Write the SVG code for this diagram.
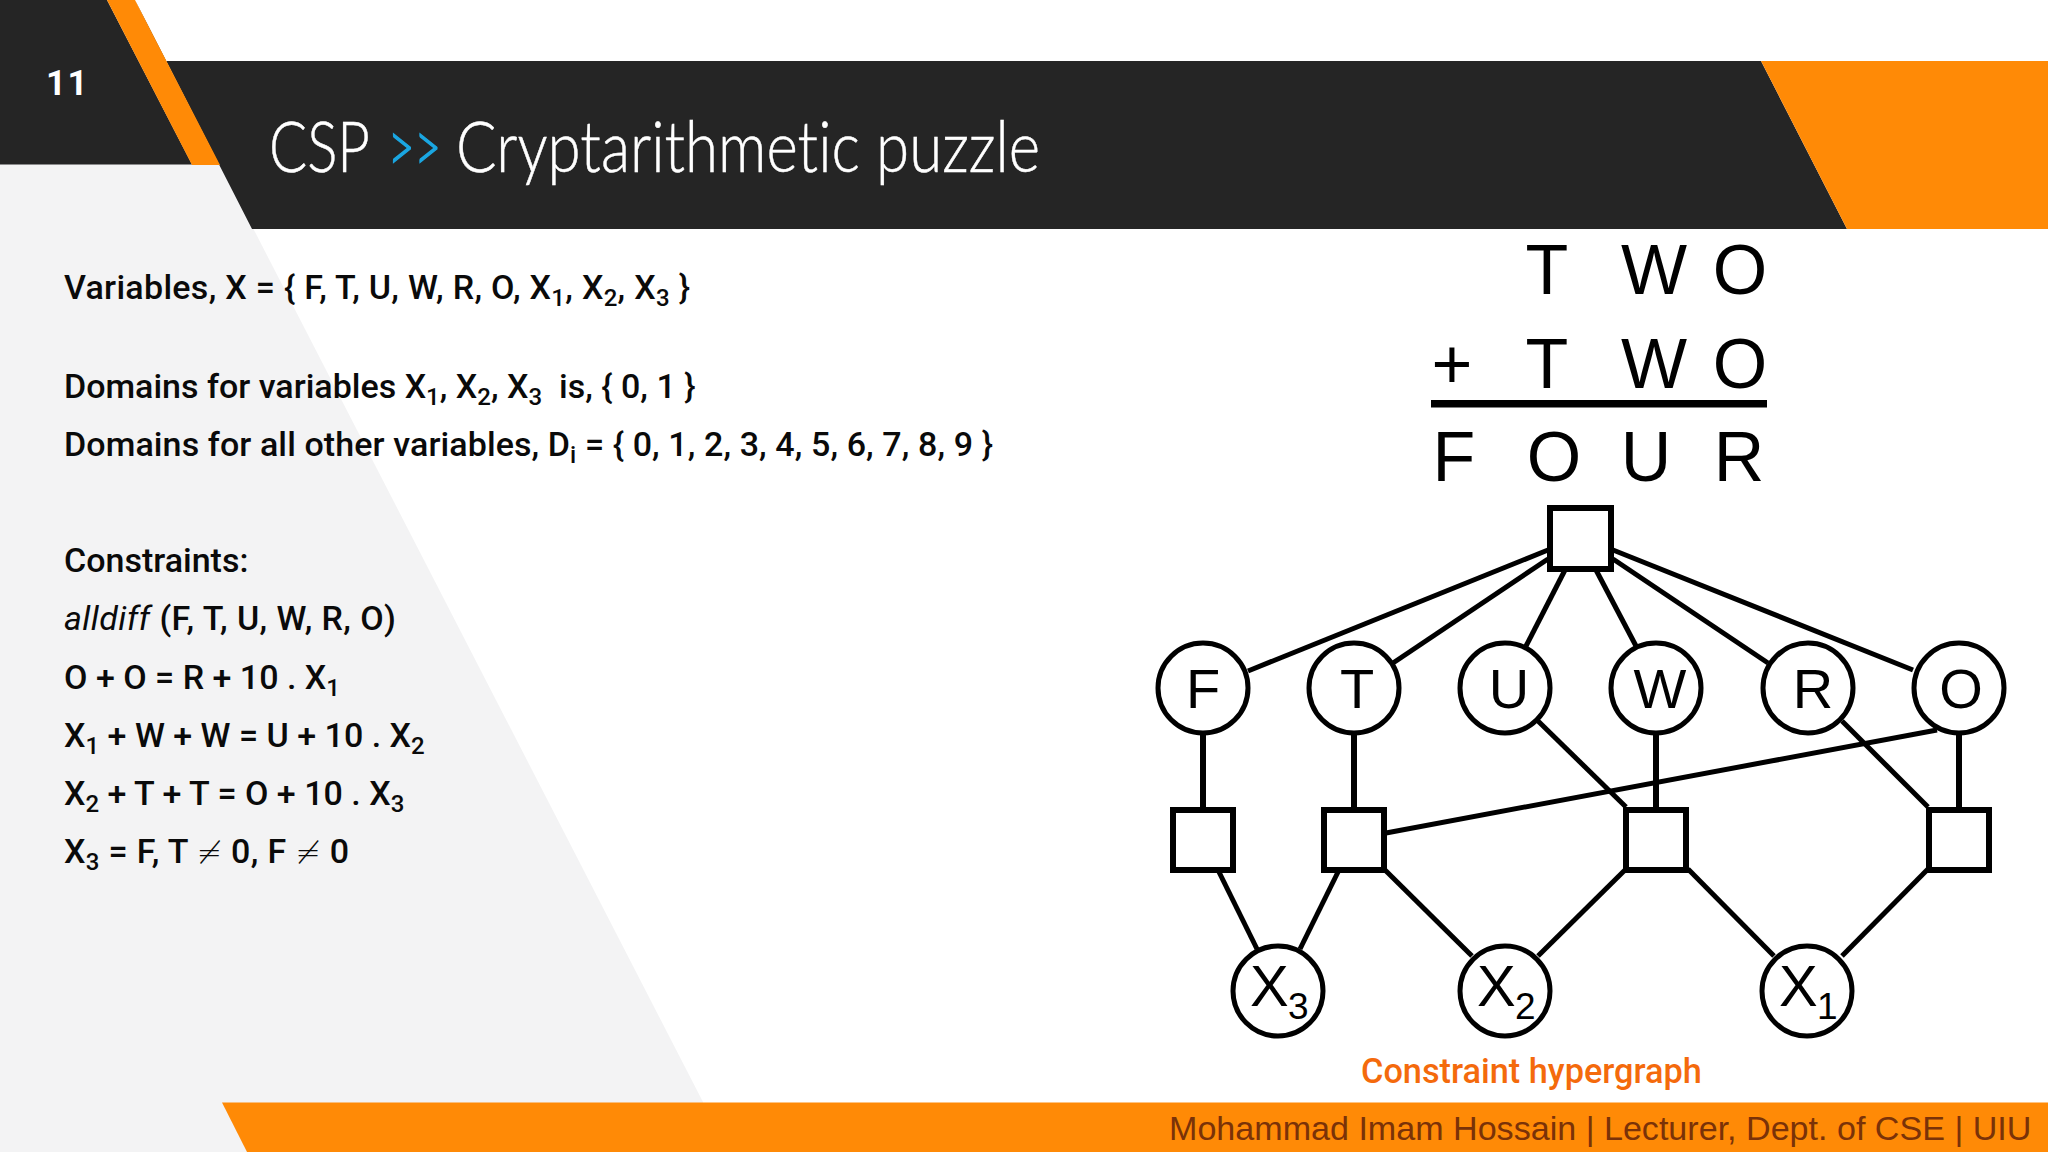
<svg xmlns="http://www.w3.org/2000/svg" width="2048" height="1152" viewBox="0 0 2048 1152">
<style>
.b{font-family:Roboto,"Liberation Sans",sans-serif;font-weight:500;font-size:34px;fill:#0a0a0a}
.s{font-size:24px}
.g{font-family:"Liberation Sans",Arial,sans-serif;fill:#000}
.n{font-size:56px;text-anchor:middle}
.p{font-size:70px;text-anchor:middle}
.sub{font-size:37px}
.c{fill:#fff;stroke:#000;stroke-width:5}
.q{fill:#fff;stroke:#000;stroke-width:6}
.e line{stroke:#000;stroke-width:5}
.t{font-family:Lato,"Open Sans",sans-serif;font-weight:300;font-size:71px;fill:#fff;stroke:#fff;stroke-width:.5;font-variant-ligatures:none}
</style>
<rect width="2048" height="1152" fill="#fff"/>
<polygon points="0,164 220,164 703,1102 703,1152 0,1152" fill="#f3f3f4"/>
<polygon points="135,0 252,229 1847,229 1761,61 165,61" fill="#252525" stroke="none"/>
<polygon points="1761,61 2048,61 2048,229 1847,229" fill="#ff8a06"/>
<polygon points="0,0 107,0 192,164.500 0,164.500" fill="#252525"/>
<polygon points="107,0 135,0 220,165 192,165" fill="#ff8a06"/>
<polygon points="222,1102.500 2048,1102.500 2048,1152 247,1152" fill="#ff8a06"/>
<text x="46" y="95" font-family="Roboto,sans-serif" font-weight="700" font-size="35" fill="#fff" letter-spacing="1.500">11</text>
<text class="t" y="172"><tspan x="269" textLength="101" lengthAdjust="spacingAndGlyphs">CSP</tspan><tspan x="388" textLength="53" lengthAdjust="spacingAndGlyphs" style="fill:#1ba7e2;stroke:#1ba7e2;stroke-width:1.500">&gt;&gt;</tspan><tspan x="456" textLength="584" lengthAdjust="spacingAndGlyphs">Cryptarithmetic puzzle</tspan></text>
<g id="body">
<text class="b" x="64" y="299" textLength="626" lengthAdjust="spacing">Variables, X = { F, T, U, W, R, O, X<tspan class="s" dy="7">1</tspan><tspan dy="-7">, X</tspan><tspan class="s" dy="7">2</tspan><tspan dy="-7">, X</tspan><tspan class="s" dy="7">3</tspan><tspan dy="-7"> }</tspan></text>
<text class="b" x="64" y="398">Domains for variables X<tspan class="s" dy="7">1</tspan><tspan dy="-7">, X</tspan><tspan class="s" dy="7">2</tspan><tspan dy="-7">, X</tspan><tspan class="s" dy="7">3</tspan><tspan dy="-7">&#160; is, { 0, 1 }</tspan></text>
<text class="b" x="64" y="456" textLength="929" lengthAdjust="spacing">Domains for all other variables, D<tspan class="s" dy="7">i</tspan><tspan dy="-7"> = { 0, 1, 2, 3, 4, 5, 6, 7, 8, 9 }</tspan></text>
<text class="b" x="64" y="572">Constraints:</text>
<text class="b" x="64" y="630" textLength="332" lengthAdjust="spacing"><tspan font-style="italic" font-weight="400">alldiff</tspan> (F, T, U, W, R, O)</text>
<text class="b" x="64" y="689">O + O = R + 10 . X<tspan class="s" dy="7">1</tspan></text>
<text class="b" x="64" y="747">X<tspan class="s" dy="7">1</tspan><tspan dy="-7"> + W + W = U + 10 . X</tspan><tspan class="s" dy="7">2</tspan></text>
<text class="b" x="64" y="805">X<tspan class="s" dy="7">2</tspan><tspan dy="-7"> + T + T = O + 10 . X</tspan><tspan class="s" dy="7">3</tspan></text>
<text class="b" x="64" y="863" textLength="285" lengthAdjust="spacing">X<tspan class="s" dy="7">3</tspan><tspan dy="-7"> = F, T </tspan><tspan font-family="DejaVu Sans" font-weight="300" font-size="30">≠</tspan> 0, F <tspan font-family="DejaVu Sans" font-weight="300" font-size="30">≠</tspan> 0</text>
</g>
<g id="puzzle" class="g">
<text class="g p" x="1547" y="294">T</text><text class="g p" x="1654" y="294">W</text><text class="g p" x="1740" y="294">O</text>
<text class="g p" x="1452" y="388">+</text><text class="g p" x="1547" y="388">T</text><text class="g p" x="1654" y="388">W</text><text class="g p" x="1740" y="388">O</text>
<rect x="1431" y="400" width="336" height="7.500"/>
<text class="g p" x="1454" y="481">F</text><text class="g p" x="1554" y="481">O</text><text class="g p" x="1646" y="481">U</text><text class="g p" x="1739" y="481">R</text>
</g>
<g id="connectors" class="e">
<line x1="1548" y1="550" x2="1248" y2="671"/>
<line x1="1548" y1="559" x2="1393" y2="663"/>
<line x1="1565" y1="570" x2="1526" y2="646"/>
<line x1="1596" y1="570" x2="1636" y2="646"/>
<line x1="1613" y1="559" x2="1768" y2="663"/>
<line x1="1613" y1="550" x2="1913" y2="670"/>
<line x1="1203" y1="735" x2="1203" y2="807" style="stroke-width:6"/>
<line x1="1354" y1="735" x2="1354" y2="807" style="stroke-width:6"/>
<line x1="1656" y1="735" x2="1656" y2="807" style="stroke-width:6"/>
<line x1="1959" y1="735" x2="1959" y2="807" style="stroke-width:6"/>
<line x1="1538" y1="721" x2="1626" y2="807"/>
<line x1="1842" y1="721" x2="1928" y2="807"/>
<line x1="1937" y1="730" x2="1386" y2="833"/>
<line x1="1219" y1="872" x2="1257" y2="949"/>
<line x1="1338" y1="872" x2="1300" y2="949"/>
<line x1="1384" y1="869" x2="1472" y2="956"/>
<line x1="1626" y1="869" x2="1538" y2="956"/>
<line x1="1688" y1="869" x2="1774" y2="956"/>
<line x1="1928" y1="869" x2="1842" y2="956"/>
</g>
<g id="c0"><rect class="q" x="1550" y="508" width="61" height="61"/></g>
<g id="F"><circle class="c" cx="1203" cy="688" r="45"/><text class="g n" x="1203" y="708">F</text></g>
<g id="T"><circle class="c" cx="1354" cy="688" r="45"/><text class="g n" x="1357" y="708">T</text></g>
<g id="U"><circle class="c" cx="1505" cy="688" r="45"/><text class="g n" x="1509" y="708">U</text></g>
<g id="W"><circle class="c" cx="1656" cy="688" r="45"/><text class="g n" x="1660" y="708">W</text></g>
<g id="R"><circle class="c" cx="1808" cy="688" r="45"/><text class="g n" x="1813" y="708">R</text></g>
<g id="O"><circle class="c" cx="1959" cy="688" r="45"/><text class="g n" x="1961" y="708">O</text></g>
<g id="c1"><rect class="q" x="1173" y="810" width="60" height="60"/></g>
<g id="c2"><rect class="q" x="1324" y="810" width="60" height="60"/></g>
<g id="c3"><rect class="q" x="1626" y="810" width="60" height="60"/></g>
<g id="c4"><rect class="q" x="1929" y="810" width="60" height="60"/></g>
<g id="X3"><circle class="c" cx="1278" cy="991" r="45"/><text class="g" x="1250" y="1006" font-size="58">X</text><text class="g sub" x="1288" y="1019">3</text></g>
<g id="X2"><circle class="c" cx="1505" cy="991" r="45"/><text class="g" x="1477" y="1006" font-size="58">X</text><text class="g sub" x="1515" y="1019">2</text></g>
<g id="X1"><circle class="c" cx="1807" cy="991" r="45"/><text class="g" x="1779" y="1006" font-size="58">X</text><text class="g sub" x="1817" y="1019">1</text></g>
<text x="1361" y="1083" font-family="Roboto,sans-serif" font-weight="500" font-size="34.300" fill="#f46a0c">Constraint hypergraph</text>
<text x="1169" y="1140" font-family="Liberation Sans,Arial,sans-serif" font-size="34.100" fill="#7a3208">Mohammad Imam Hossain | Lecturer, Dept. of CSE | UIU</text>
</svg>
